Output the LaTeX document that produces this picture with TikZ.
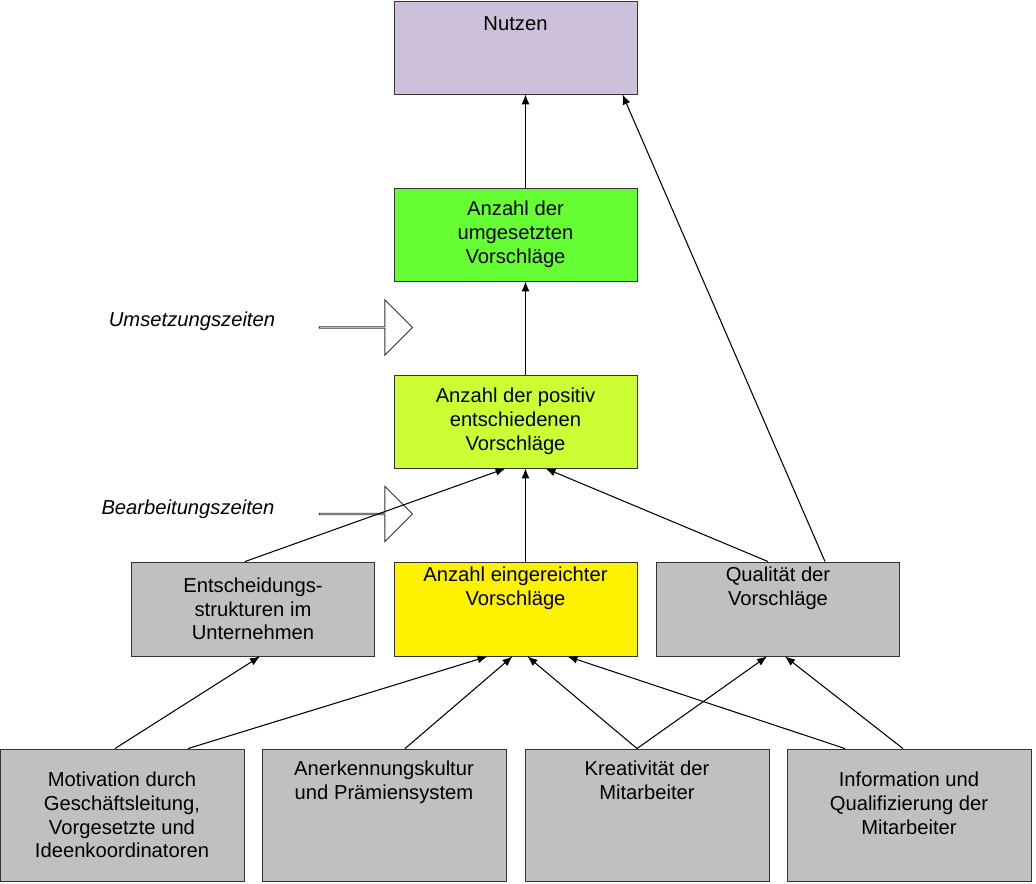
\documentclass[tikz,border=0pt]{standalone}
\usepackage{fontspec}
\setmainfont{Liberation Sans}
\usetikzlibrary{shapes.arrows,arrows.meta,calc}

\definecolor{lila}{RGB}{204,192,218}
\definecolor{hgruen}{RGB}{102,255,51}
\definecolor{gelbgruen}{RGB}{204,255,51}
\definecolor{grau}{RGB}{192,192,192}

\begin{document}
\begin{tikzpicture}[%
      x=0.02cm, y=-0.02cm,
      box/.style={draw=black!80, line width=0.5pt, minimum width=243*0.02cm,
        minimum height=93*0.02cm, align=center, inner sep=2pt,
        font=\fontsize{11.5}{13.5}\selectfont},
      pfeil/.style={-{Latex[length=2mm,width=1.6mm]}, line width=0.6pt},
      block/.style={single arrow, draw=black!80, line width=0.5pt, fill=white,
        minimum height=93*0.02cm, minimum width=55*0.02cm,
        single arrow head extend=0.3cm, inner sep=0pt},
      label/.style={font=\fontsize{11.5}{13.5}\selectfont\itshape},
      ]
      \useasboundingbox (0,0) rectangle (1036,884);

      % obere Reihe
      \node [box, fill=lila] (nutzen) at (515.5,47.5) {\raisebox{0pt}{Nutzen}\\[1.2em]~};
      \node [box, fill=hgruen] (umgesetzt) at (515.5,234.5) {Anzahl der\\umgesetzten\\Vorschläge};
      \node [box, fill=gelbgruen] (positiv) at (515.5,421.5) {Anzahl der positiv\\entschiedenen\\Vorschläge};

      % mittlere Reihe
      \node [box, fill=grau, minimum height=94*0.02cm] (struktur) at (253,609) {Entscheidungs-\\strukturen im\\Unternehmen};
      \node [box, fill=yellow, minimum height=94*0.02cm] (eingereicht) at (515.5,609) {Anzahl eingereichter\\Vorschläge\\[1.1em]~};
      \node [box, fill=grau, minimum height=94*0.02cm] (qualitaet) at (778,609) {Qualität der\\Vorschläge\\[1.1em]~};

      % untere Reihe
      \node [box, fill=grau, minimum height=132*0.02cm, minimum width=244*0.02cm] (motivation) at (122,815) {Motivation durch\\Geschäftsleitung,\\Vorgesetzte und\\Ideenkoordinatoren};
      \node [box, fill=grau, minimum height=132*0.02cm, minimum width=244*0.02cm] (anerkennung) at (384,815) {Anerkennungskultur\\und Prämiensystem\\[1.1em]~\\~};
      \node [box, fill=grau, minimum height=132*0.02cm, minimum width=244*0.02cm] (kreativ) at (647,815) {Kreativität der\\Mitarbeiter\\[1.1em]~\\~};
      \node [box, fill=grau, minimum height=132*0.02cm, minimum width=244*0.02cm] (info) at (909,815) {Information und\\Qualifizierung der\\Mitarbeiter\\~};

      % Blockpfeile
      \node [block] (umsetz) at (365.5,327.5) {};
      \node [block] (bearb) at (365.5,514) {};
      \node [label] (lumsetz) at (192,321) {Umsetzungszeiten};
      \node [label] (lbearb) at (188,509) {Bearbeitungszeiten};

      % Verbindungen
      \draw [pfeil] ($(umgesetzt.north)+(10,0)$) -- ($(nutzen.south)+(10,0)$);
      \draw [pfeil] ($(positiv.north)+(10,0)$) -- ($(umgesetzt.south)+(10,0)$);
      \draw [pfeil] ($(qualitaet.north)+(47,0)$) -- ($(nutzen.south)+(107,0)$);
      \draw [pfeil] ($(struktur.north)+(-8,0)$) -- ($(positiv.south)+(-10,0)$);
      \draw [pfeil] ($(eingereicht.north)+(10,0)$) -- ($(positiv.south)+(10,0)$);
      \draw [pfeil] ($(qualitaet.north)+(-10,0)$) -- ($(positiv.south)+(30,0)$);
      \draw [pfeil] ($(motivation.north)+(-7,0)$) -- ($(struktur.south)+(7,0)$);
      \draw [pfeil] ($(motivation.north)+(66,0)$) -- ($(eingereicht.south)+(-28,0)$);
      \draw [pfeil] ($(anerkennung.north)+(21,0)$) -- ($(eingereicht.south)+(-3,0)$);
      \draw [pfeil] ($(kreativ.north)+(-10,0)$) -- ($(eingereicht.south)+(12,0)$);
      \draw [pfeil] ($(kreativ.north)+(-10,0)$) -- ($(qualitaet.south)+(-11,0)$);
      \draw [pfeil] ($(info.north)+(-64,0)$) -- ($(eingereicht.south)+(52,0)$);
      \draw [pfeil] ($(info.north)+(-6,0)$) -- ($(qualitaet.south)+(7,0)$);
\end{tikzpicture}
\end{document}
